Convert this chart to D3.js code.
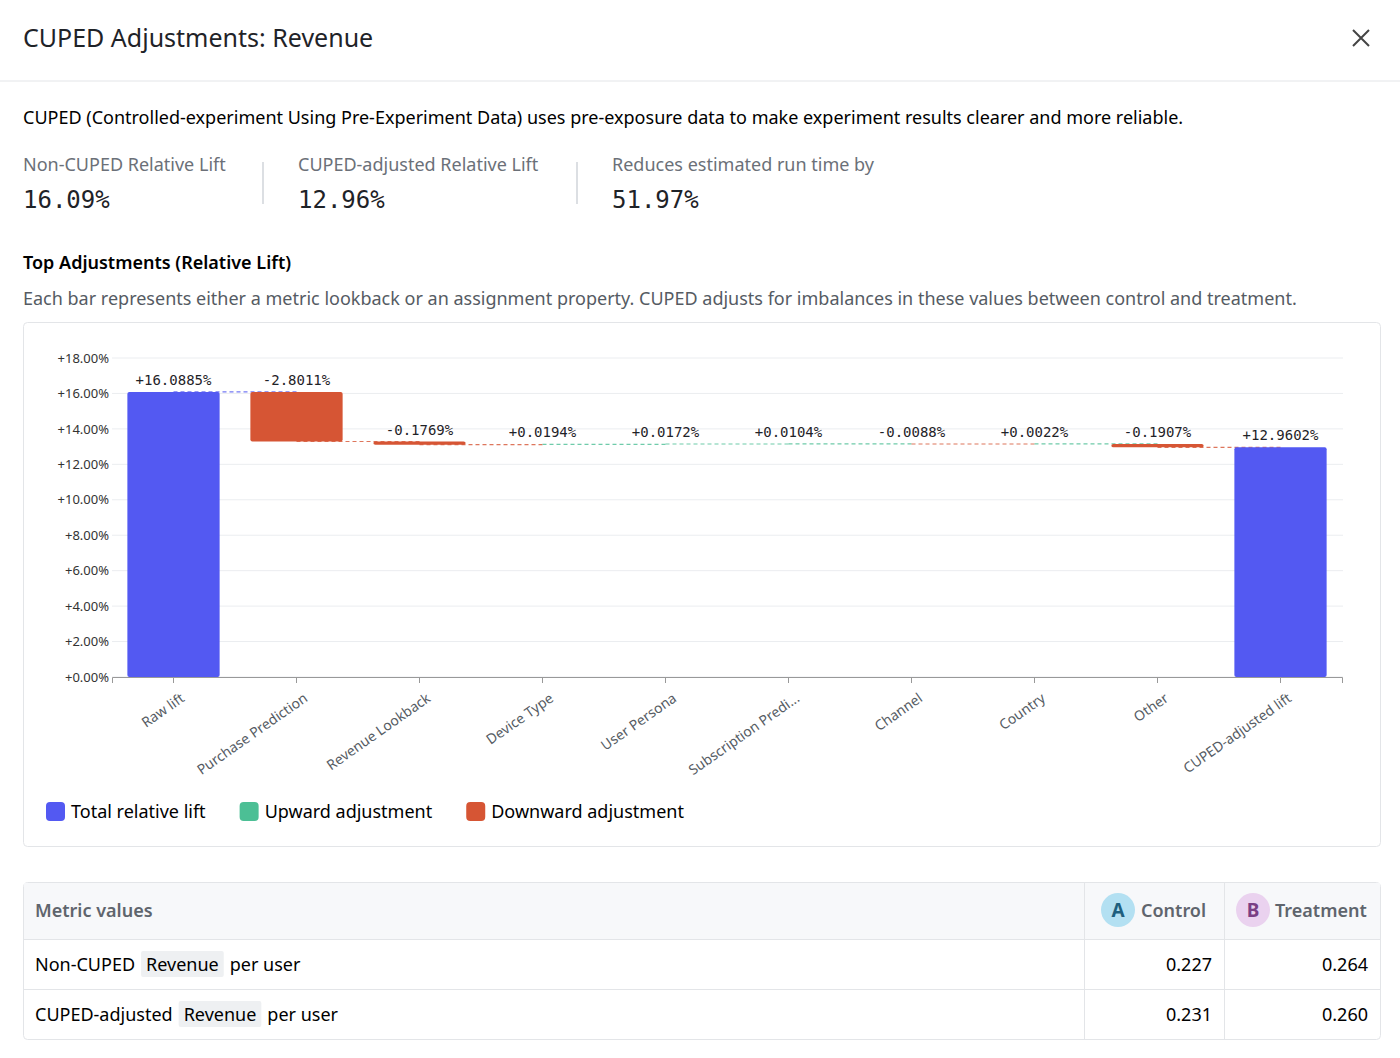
<!DOCTYPE html>
<html><head><meta charset="utf-8">
<script src="https://cdn.jsdelivr.net/npm/d3@7"></script>
<style>
body{margin:0;background:#fff;font-family:"Noto Sans",sans-serif;color:#1f2328;}
svg text{font-family:"Noto Sans",sans-serif;}
</style></head><body>
<svg id="c" width="1400" height="1058"></svg>
<script>
const categories=["Raw lift","Purchase Prediction","Revenue Lookback","Device Type","User Persona","Subscription Predi...","Channel","Country","Other","CUPED-adjusted lift"];
const deltas=[16.0885,-2.8011,-0.1769,0.0194,0.0172,0.0104,-0.0088,0.0022,-0.1907,12.9602];
const labels=["+16.0885%","-2.8011%","-0.1769%","+0.0194%","+0.0172%","+0.0104%","-0.0088%","+0.0022%","-0.1907%","+12.9602%"];
const yTicks=[0,2,4,6,8,10,12,14,16,18];
const stats=[["Non-CUPED Relative Lift","16.09%"],["CUPED-adjusted Relative Lift","12.96%"],["Reduces estimated run time by","51.97%"]];
const tableRows=[["Non-CUPED","0.227","0.264"],["CUPED-adjusted","0.231","0.260"]];
const legendItems=[["Total relative lift","#5359f2"],["Upward adjustment","#4cbf95"],["Downward adjustment","#d65534"]];
const C={total:"#5359f2",up:"#4cbf95",down:"#d65534"};

const svg=d3.select("#c");
svg.append("text").attr("x",23).attr("y",47).attr("font-size",25).attr("fill","#1f2328").text("CUPED Adjustments: Revenue");
svg.append("path").attr("d","M1353,30L1369,46M1369,30L1353,46").attr("stroke","#444").attr("stroke-width",2);
svg.append("line").attr("x1",0).attr("x2",1400).attr("y1",81).attr("y2",81).attr("stroke","#e3e5e8");
svg.append("text").attr("x",23).attr("y",124).attr("font-size",18).text("CUPED (Controlled-experiment Using Pre-Experiment Data) uses pre-exposure data to make experiment results clearer and more reliable.");
const sx=[23,298,612];
stats.forEach((s,i)=>{
  svg.append("text").attr("x",sx[i]).attr("y",171).attr("font-size",18).attr("fill","#6b7078").text(s[0]);
  svg.append("text").attr("x",sx[i]).attr("y",208).attr("font-size",24).style("font-family","DejaVu Sans Mono").attr("fill","#1f2328").text(s[1]);
});
[263,577].forEach(x=>svg.append("line").attr("x1",x).attr("x2",x).attr("y1",162).attr("y2",204).attr("stroke","#dcdfe3").attr("stroke-width",2));
svg.append("text").attr("x",23).attr("y",269).attr("font-size",18).attr("font-weight",600).text("Top Adjustments (Relative Lift)");
svg.append("text").attr("x",23).attr("y",305).attr("font-size",18).attr("fill","#555b63").text("Each bar represents either a metric lookback or an assignment property. CUPED adjusts for imbalances in these values between control and treatment.");
svg.append("rect").attr("x",23.5).attr("y",322.5).attr("width",1357).attr("height",524).attr("rx",4).attr("fill","none").attr("stroke","#e3e5e8");

let run=0;const bars=deltas.map((d,i)=>{
  if(i===0||i===deltas.length-1){run=d;return{c:categories[i],lo:0,hi:d,end:d,col:C.total,lab:labels[i]};}
  const s=run;run=s+d;return{c:categories[i],lo:Math.min(s,run),hi:Math.max(s,run),end:run,col:d>=0?C.up:C.down,lab:labels[i]};
});
const x=d3.scaleBand().domain(categories).range([112,1342]).paddingInner(0.25).paddingOuter(0.125);
const y=d3.scaleLinear().domain([0,18]).range([677,358]);
const g=svg.append("g");
g.append("g").selectAll("line").data(yTicks).join("line").attr("x1",112).attr("x2",1343).attr("y1",d=>y(d)).attr("y2",d=>y(d)).attr("stroke","#ebedf0");
const ya=g.append("g").attr("transform","translate(112,0)").call(d3.axisLeft(y).tickValues(yTicks).tickSize(0).tickPadding(3).tickFormat(d=>"+"+d.toFixed(2)+"%"));
ya.select(".domain").remove();ya.selectAll("text").attr("font-size",13).attr("fill","#333");
const xa=g.append("g").attr("transform","translate(0,677)").call(d3.axisBottom(x).tickSize(6));
xa.select(".domain").attr("stroke","#999");xa.selectAll("line").attr("stroke","#999");
xa.selectAll("text").attr("font-size",14).attr("fill","#555b63").attr("text-anchor","end").attr("transform","translate(4,12) rotate(-35)").attr("dy","0.35em").attr("dx","0");
bars.slice(0,-1).forEach((b,i)=>{
  g.append("line").attr("x1",x(b.c)+x.bandwidth()/2).attr("x2",x(categories[i+1])+x.bandwidth()/2).attr("y1",y(b.end)).attr("y2",y(b.end)).attr("stroke",b.col).attr("stroke-dasharray","4,3").attr("stroke-width",1.2).attr("opacity",0.8);
});
g.selectAll("rect.b").data(bars).join("rect").attr("x",d=>x(d.c)).attr("width",x.bandwidth())
 .attr("y",d=>y(d.hi)).attr("height",d=>{const h=y(d.lo)-y(d.hi);return h<0.5?0:Math.max(h,3);}).attr("rx",2).attr("fill",d=>d.col);
g.selectAll("text.l").data(bars).join("text").attr("x",d=>x(d.c)+x.bandwidth()/2).attr("y",d=>y(d.hi)-7).attr("text-anchor","middle")
 .style("font-family","DejaVu Sans Mono").attr("font-size",14).attr("fill","#1f2328").text(d=>d.lab);
let lx=46;legendItems.forEach(l=>{
  svg.append("rect").attr("x",lx).attr("y",802).attr("width",19).attr("height",19).attr("rx",4).attr("fill",l[1]);
  const t=svg.append("text").attr("x",lx+25).attr("y",818).attr("font-size",18).text(l[0]);
  lx+=25+t.node().getComputedTextLength()+34;
});
const T=svg.append("g");
T.append("rect").attr("x",23.5).attr("y",882.5).attr("width",1357).attr("height",157).attr("rx",4).attr("fill","#fff").attr("stroke","#e3e5e8");
T.append("rect").attr("x",24).attr("y",883).attr("width",1356).attr("height",56).attr("fill","#f7f8fa");
[939.5,989.5].forEach(yy=>T.append("line").attr("x1",24).attr("x2",1380).attr("y1",yy).attr("y2",yy).attr("stroke","#e3e5e8"));
[1084.5,1224.5].forEach(xx=>T.append("line").attr("x1",xx).attr("x2",xx).attr("y1",883).attr("y2",1039).attr("stroke","#e3e5e8"));
T.append("text").attr("x",35).attr("y",917).attr("font-size",18).attr("font-weight",600).attr("fill","#5f656d").text("Metric values");
[[1118,"A","#b3e0f2","#1e5f7e","Control",1141],[1253,"B","#ead2ef","#7a3f85","Treatment",1275]].forEach(h=>{
  T.append("circle").attr("cx",h[0]).attr("cy",910).attr("r",17).attr("fill",h[2]);
  T.append("text").attr("x",h[0]).attr("y",917).attr("text-anchor","middle").attr("font-size",19).attr("font-weight",700).attr("fill",h[3]).text(h[1]);
  T.append("text").attr("x",h[5]).attr("y",917).attr("font-size",18).attr("font-weight",600).attr("fill","#5f656d").text(h[4]);
});
tableRows.forEach((r,i)=>{
  const yy=971+i*50;
  const t1=T.append("text").attr("x",35).attr("y",yy).attr("font-size",18).text(r[0]);
  const w=t1.node().getComputedTextLength();
  const bx=35+w+6;
  const t2=T.append("text").attr("x",bx+5).attr("y",yy).attr("font-size",18).text("Revenue");
  const w2=t2.node().getComputedTextLength();
  T.insert("rect","text:last-child").attr("x",bx).attr("y",yy-20).attr("width",w2+10).attr("height",26).attr("rx",2).attr("fill","#eef0f2");
  t2.raise();
  T.append("text").attr("x",bx+w2+16).attr("y",yy).attr("font-size",18).text("per user");
  T.append("text").attr("x",1212).attr("y",yy).attr("text-anchor","end").attr("font-size",18).text(r[1]);
  T.append("text").attr("x",1368).attr("y",yy).attr("text-anchor","end").attr("font-size",18).text(r[2]);
});
</script></body></html>
